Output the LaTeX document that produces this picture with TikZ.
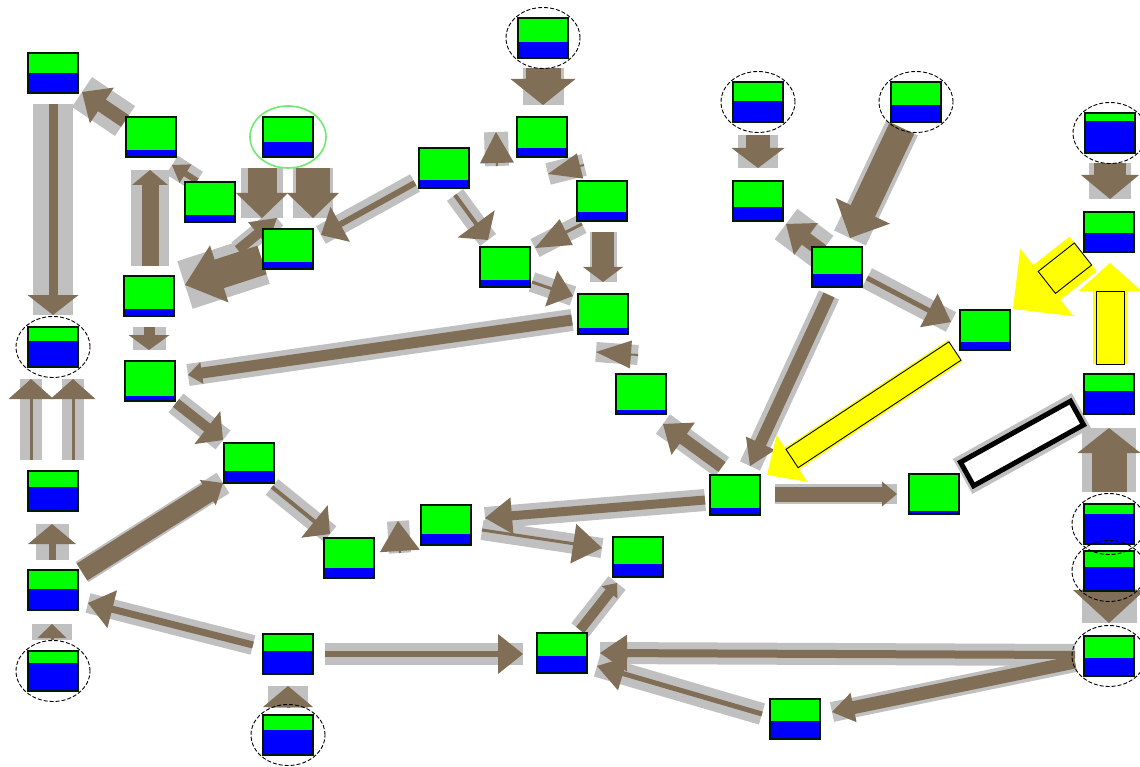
\documentclass[tikz,border=0pt]{standalone}
\usetikzlibrary{calc}
\pgfdeclarelayer{back}\pgfdeclarelayer{arrows}
\pgfsetlayers{back,arrows,main}
\definecolor{ngreen}{RGB}{0,255,0}
\definecolor{nblue}{RGB}{0,0,255}
\definecolor{nborder}{RGB}{0,25,0}
\definecolor{abrown}{RGB}{128,111,86}
\definecolor{ashadow}{RGB}{192,192,192}
\definecolor{ayellow}{RGB}{255,255,0}
\definecolor{lgreen}{RGB}{110,235,110}
\def\bluehgt{0pt}
\tikzset{
  bh/.store in=\bluehgt,
  box/.style={draw=nborder, line width=2pt, fill=ngreen, minimum width=50pt, minimum height=40pt, inner sep=0pt, outer sep=0pt,
    path picture={\fill[nblue] (path picture bounding box.south west) rectangle ([yshift=\bluehgt]path picture bounding box.south east);}},
  ring/.style={draw=black, line width=0.9pt, dash pattern=on 4pt off 2pt},
  greenring/.style={draw=lgreen, line width=1.6pt},
}
\newcommand\shadowpart[6]{\draw[ashadow, line width=#6pt] #1 -- #2;}
\newcommand\brownpart[6]{%
  \coordinate (tA) at #1; \coordinate (tB) at #2;
  \coordinate (tC) at ($(tB)!#5pt!(tA)$);
  \pgfmathsetlengthmacro\hh{#4/2}%
  \draw[abrown, line width=#3pt] (tA) -- ($(tC)!1pt!(tB)$);
  \fill[abrown] ($(tC)!\hh!90:(tB)$) -- (tB) -- ($(tC)!\hh!-90:(tB)$) -- cycle;
}
\newcommand\yarrow[6]{%
  \coordinate (tA) at #1; \coordinate (tB) at #2;
  \coordinate (tC) at ($(tB)!#5pt!(tA)$);
  \pgfmathsetlengthmacro\hh{#4/2}\pgfmathsetlengthmacro\hs{#3/2}%
  \draw[ayellow, line width=#6pt] (tA) -- (tC);
  \fill[ayellow] ($(tC)!\hh!90:(tB)$) -- (tB) -- ($(tC)!\hh!-90:(tB)$) -- cycle;
  \filldraw[fill=ayellow, draw=black, line width=0.9pt] ($(tA)!\hs!90:(tB)$) -- ($(tC)!\hs!90:(tB)$) -- ($(tC)!\hs!-90:(tB)$) -- ($(tA)!\hs!-90:(tB)$) -- cycle;
}
\newcommand\hollowbar[4]{%
  \coordinate (tA) at #1; \coordinate (tB) at #2;
  \pgfmathsetlengthmacro\hs{#3/2}%
  \draw[ashadow, line width=#4pt] ($(tA)!-5pt!(tB)$) -- ($(tB)!-5pt!(tA)$);
  \filldraw[fill=white, draw=black, line width=5pt, line join=miter] ($(tA)!\hs!90:(tB)$) -- ($(tB)!\hs!-90:(tA)$) -- ($(tB)!\hs!90:(tA)$) -- ($(tA)!\hs!-90:(tB)$) -- cycle;
}
\newcommand\edgelist{%
  \cn{([shift={(-26,-16)}]N2.center)}{([shift={(29,19)}]N1.center)}{14}{43}{24}{36}
  \cn{([shift={(0,31)}]N1.center)}{([shift={(0,-32)}]N7.center)}{9}{51}{20}{40}
  \cn{([shift={(-13,-21)}]N4.center)}{([shift={(21,28)}]N2.center)}{6}{22}{16}{22}
  \cn{([shift={(1,-30)}]N6.center)}{([shift={(-1,33)}]N2.center)}{17}{36}{15}{38}
  \cn{([shift={(-26,31)}]N3.center)}{([shift={(-26,-31)}]N5.center)}{29}{52}{25}{42}
  \cn{([shift={(25,31)}]N3.center)}{([shift={(25,-31)}]N5.center)}{34}{52}{25}{40}
  \cn{([shift={(89,-46)}]N6.center)}{([shift={(-11,-31)}]N5.center)}{10}{30}{25}{20}
  \cn{([shift={(-26,11)}]N5.center)}{([shift={(36,-11)}]N6.center)}{30}{60}{36}{50}
  \cn{([shift={(-29,15)}]N18.center)}{([shift={(33,-14)}]N5.center)}{6}{40}{22}{20}
  \cn{([shift={(0,31)}]N6.center)}{([shift={(-1,-31)}]N8.center)}{11}{41}{15}{33}
  \cn{([shift={(-31,6)}]N21.center)}{([shift={(38,-6)}]N8.center)}{11}{22}{14}{22}
  \cn{([shift={(26,22)}]N8.center)}{([shift={(-26,-23)}]N9.center)}{10}{42}{20}{24}
  \cn{([shift={(29,-18)}]N11.center)}{([shift={(-26,20)}]N9.center)}{20}{30}{18}{24}
  \cn{([shift={(23,24)}]N9.center)}{([shift={(-19,-24)}]N13.center)}{4}{42}{20}{20}
  \cn{([shift={(-1,-30)}]N11.center)}{([shift={(-1,33)}]N10.center)}{7}{48}{20}{33}
  \cn{([shift={(-22,-31)}]N10.center)}{([shift={(-22,32)}]N7.center)}{3}{45}{20}{22}
  \cn{([shift={(20,-31)}]N10.center)}{([shift={(20,32)}]N7.center)}{3}{45}{20}{22}
  \cn{([shift={(-1,-31)}]N12.center)}{([shift={(-1,34)}]N11.center)}{3}{29}{14}{40}
  \cn{([shift={(-35,-9)}]N14.center)}{([shift={(35,13)}]N11.center)}{7}{39}{25}{20}
  \cn{([shift={(37,0)}]N14.center)}{([shift={(-39,1)}]N26.center)}{6}{40}{25}{22}
  \cn{([shift={(0,-27)}]N15.center)}{([shift={(0,32)}]N14.center)}{3}{50}{21}{40}
  \cn{([shift={(51,-5)}]N13.center)}{([shift={(-48,-4)}]N24.center)}{2}{40}{30}{22}
  \cn{([shift={(-30,5)}]N23.center)}{([shift={(39,-7)}]N24.center)}{9}{37}{27}{22}
  \cn{([shift={(36,5)}]N24.center)}{([shift={(-36,-9)}]N25.center)}{3}{40}{29}{20}
  \cn{([shift={(18,-23)}]N26.center)}{([shift={(-21,26)}]N25.center)}{10}{20}{12}{22}
  \cn{([shift={(-34,-1)}]N38.center)}{([shift={(38,0)}]N26.center)}{8}{37}{27}{22}
  \cn{([shift={(-33,-5)}]N39.center)}{([shift={(35,13)}]N26.center)}{5}{35}{27}{22}
  \cn{([shift={(-34,6)}]N38.center)}{([shift={(37,-7)}]N39.center)}{13}{30}{22}{20}
  \cn{([shift={(0,18)}]N37.center)}{([shift={(0,-33)}]N38.center)}{30}{72}{33}{55}
  \cn{([shift={(0,-32)}]N36.center)}{([shift={(0,34)}]N34.center)}{35}{63}{25}{54}
  \cn{([shift={(40,-1)}]N23.center)}{([shift={(-37,0)}]N35.center)}{15}{25}{15}{20}
  \cn{([shift={(-8,28)}]N31.center)}{([shift={(15,-29)}]N23.center)}{12}{32}{25}{22}
  \cn{([shift={(-13,-28)}]N23.center)}{([shift={(22,30)}]N22.center)}{12}{40}{25}{24}
  \cn{([shift={(-3,-39)}]N22.center)}{([shift={(-7,38)}]N21.center)}{2}{28}{35}{20}
  \cn{([shift={(27,15)}]N20.center)}{([shift={(-30,-18)}]N21.center)}{3}{38}{23}{20}
  \cn{([shift={(11,27)}]N18.center)}{([shift={(-17,-27)}]N20.center)}{4}{46}{20}{20}
  \cn{([shift={(-20,23)}]N19.center)}{([shift={(30,-19)}]N20.center)}{3}{29}{35}{20}
  \cn{([shift={(1,31)}]N19.center)}{([shift={(0,-32)}]N21.center)}{22}{40}{15}{27}
  \cn{([shift={(0,30)}]N16.center)}{([shift={(1,-32)}]N17.center)}{35}{65}{26}{41}
  \cn{([shift={(53,-2)}]N18.center)}{([shift={(-46,-5)}]N17.center)}{2}{34}{31}{24}
  \cn{([shift={(-18,-36)}]N19.center)}{([shift={(6,37)}]N17.center)}{2}{26}{33}{22}
  \cn{([shift={(0,33)}]N27.center)}{([shift={(0,-33)}]N30.center)}{24}{53}{20}{40}
  \cn{([shift={(-15,-16)}]N31.center)}{([shift={(28,23)}]N30.center)}{14}{40}{25}{38}
  \cn{([shift={(-14,26)}]N28.center)}{([shift={(13,-29)}]N31.center)}{27}{60}{30}{35}
  \cn{([shift={(30,11)}]N31.center)}{([shift={(-34,-8)}]N33.center)}{5}{38}{25}{22}
  \cn{([shift={(0,30)}]N29.center)}{([shift={(1,-33)}]N32.center)}{32}{58}{24}{42}
}
\begin{document}
\begin{tikzpicture}[x=1pt,y=-1pt]
\useasboundingbox (0,0) rectangle (1140,767);
\begin{pgfonlayer}{back}
\fill[white] (0,0) rectangle (1140,767);
\end{pgfonlayer}
% nodes
\node[box, bh=20pt] (N1) at (53,73) {};
\node[box, bh=7pt] (N2) at (151,137) {};
\node[box, bh=15pt] (N3) at (288,137) {};
\node[box, bh=7pt] (N4) at (210,202) {};
\node[box, bh=7pt] (N5) at (288,249) {};
\node[box, bh=7pt] (N6) at (149,296) {};
\node[box, bh=26pt] (N7) at (53,347) {};
\node[box, bh=5pt] (N8) at (150,381) {};
\node[box, bh=12pt] (N9) at (249,463) {};
\node[box, bh=24pt] (N10) at (53,491) {};
\node[box, bh=21pt] (N11) at (53,590) {};
\node[box, bh=28pt] (N12) at (53,671) {};
\node[box, bh=10pt] (N13) at (349,558) {};
\node[box, bh=23pt] (N14) at (288,654) {};
\node[box, bh=25pt] (N15) at (288,735) {};
\node[box, bh=16pt] (N16) at (543,38) {};
\node[box, bh=9pt] (N17) at (542,137) {};
\node[box, bh=8pt] (N18) at (444,168) {};
\node[box, bh=9pt] (N19) at (602,201) {};
\node[box, bh=7pt] (N20) at (505,267) {};
\node[box, bh=6pt] (N21) at (603,314) {};
\node[box, bh=4pt] (N22) at (641,394) {};
\node[box, bh=7pt] (N23) at (735,495) {};
\node[box, bh=11pt] (N24) at (446,525) {};
\node[box, bh=13pt] (N25) at (638,557) {};
\node[box, bh=17pt] (N26) at (562,653) {};
\node[box, bh=21pt] (N27) at (758,102) {};
\node[box, bh=17pt] (N28) at (916,102) {};
\node[box, bh=32pt] (N29) at (1110,133) {};
\node[box, bh=14pt] (N30) at (758,201) {};
\node[box, bh=13pt] (N31) at (837,267) {};
\node[box, bh=19pt] (N32) at (1109,232) {};
\node[box, bh=8pt] (N33) at (985,330) {};
\node[box, bh=23pt] (N34) at (1109,394) {};
\node[box, bh=3pt] (N35) at (934,494) {};
\node[box, bh=30pt] (N36) at (1109,524) {};
\node[box, bh=24pt] (N37) at (1109,571) {};
\node[box, bh=18pt] (N38) at (1109,656) {};
\node[box, bh=18pt] (N39) at (795,719) {};
% connectors
\begin{pgfonlayer}{arrows}
\let\cn\shadowpart \edgelist
\let\cn\brownpart \edgelist
\hollowbar{([shift={(33,-20)}]N35.center)}{([shift={(-32,19)}]N34.center)}{27}{40}
\yarrow{([shift={(-30,21)}]N33.center)}{([shift={(32,-20)}]N23.center)}{22}{56}{30}{26}
\yarrow{([shift={(-26,22)}]N32.center)}{([shift={(28,-21)}]N33.center)}{28}{86}{43}{44}
\yarrow{([shift={(1,-30)}]N34.center)}{([shift={(1,31)}]N32.center)}{28}{63}{28}{34}
\end{pgfonlayer}
% rings
\draw[greenring] (N3.center) ellipse [x radius=38pt, y radius=31pt];
\foreach \n in {N7,N12,N15,N16,N27,N28,N29,N36,N37,N38}
  \draw[ring] (\n.center) ellipse [x radius=37pt, y radius=30.5pt];
\end{tikzpicture}
\end{document}
